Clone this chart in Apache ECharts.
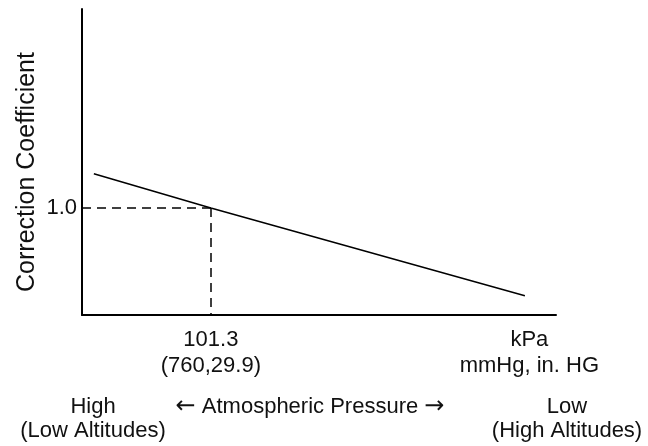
<!DOCTYPE html>
<html>
<head>
<meta charset="utf-8">
<script src="https://cdn.jsdelivr.net/npm/echarts@6/dist/echarts.min.js"></script>
<style>html,body{margin:0;padding:0;background:#fff}#c{width:648px;height:446px}</style>
</head>
<body>
<div id="c"></div>
<script>
// Data (pressure in kPa, correction coefficient)
var pressure = [109.2, 101.3, 80.1];
var coefficient = [1.064, 1.0, 0.836];
var refPressure = 101.3;
var refCoef = 1.0;
var xTickValues = [101.3, 79.8];
var xTickLabels = ['101.3\n(760,29.9)', 'kPa\nmmHg, in. HG'];
var yTickValues = [1.0];
var yTickLabels = ['1.0'];
var xMin = 78, xMax = 110, yMin = 0.8, yMax = 1.372;

var FONT = '"Liberation Sans", Arial, Helvetica, sans-serif';
var chart = echarts.init(document.getElementById('c'), null, {renderer: 'canvas'});
var lineData = pressure.map(function (p, i) { return [p, coefficient[i]]; });

chart.setOption({
  animation: false,
  backgroundColor: '#fff',
  grid: {left: 82, top: 9, right: 92, bottom: 131, containLabel: false},
  xAxis: {
    type: 'value', min: xMin, max: xMax, inverse: true,
    axisLine: {show: true, onZero: false, lineStyle: {color: '#000', width: 2}},
    axisTick: {show: false},
    splitLine: {show: false},
    axisLabel: {
      customValues: xTickValues,
      margin: 12,
      color: '#111', fontSize: 22, fontFamily: FONT, lineHeight: 26,
      formatter: function (v) {
        for (var i = 0; i < xTickValues.length; i++) if (Math.abs(v - xTickValues[i]) < 1e-6) return xTickLabels[i];
        return '';
      }
    }
  },
  yAxis: {
    type: 'value', min: yMin, max: yMax,
    axisLine: {show: true, onZero: false, lineStyle: {color: '#000', width: 2}},
    axisTick: {show: false},
    splitLine: {show: false},
    axisLabel: {
      customValues: yTickValues,
      margin: 5,
      color: '#111', fontSize: 22, fontFamily: FONT,
      formatter: function (v) {
        for (var i = 0; i < yTickValues.length; i++) if (Math.abs(v - yTickValues[i]) < 1e-6) return yTickLabels[i];
        return '';
      }
    }
  },
  series: [{
    type: 'line',
    data: lineData,
    symbol: 'none',
    lineStyle: {color: '#000', width: 1.5},
    markLine: {
      silent: true,
      symbol: 'none',
      label: {show: false},
      lineStyle: {color: '#000', width: 1.5, type: [9, 6]},
      data: [
        [{coord: [xMax, refCoef]}, {coord: [refPressure, refCoef]}],
        [{coord: [refPressure, refCoef]}, {coord: [refPressure, yMin]}]
      ]
    }
  }],
  graphic: [
    {type: 'text', x: 27, y: 172, rotation: Math.PI / 2,
      style: {text: 'Correction Coefficient', fill: '#111', font: '25px ' + FONT, align: 'center', verticalAlign: 'middle'}},
    {type: 'text', x: 93, y: 395,
      style: {text: 'High\n(Low Altitudes)', fill: '#111', font: '22px ' + FONT, lineHeight: 24, align: 'center', verticalAlign: 'top'}},
    {type: 'text', x: 310, y: 395,
      style: {
        text: '{a|\u2190} Atmospheric Pressure {a|\u2192}',
        fill: '#111', font: '22px ' + FONT, lineHeight: 24, align: 'center', verticalAlign: 'top',
        rich: {a: {fontFamily: '"DejaVu Sans", sans-serif', fontSize: 24, fill: '#111', lineHeight: 24}}
      }},
    {type: 'text', x: 567, y: 395,
      style: {text: 'Low\n(High Altitudes)', fill: '#111', font: '22px ' + FONT, lineHeight: 24, align: 'center', verticalAlign: 'top'}}
  ]
});
</script>
</body>
</html>
